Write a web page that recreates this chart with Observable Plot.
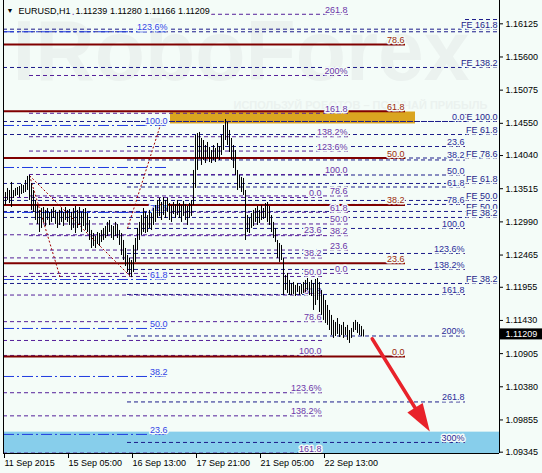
<!DOCTYPE html>
<html><head><meta charset="utf-8">
<script src="https://cdn.jsdelivr.net/npm/d3@7"></script>
<script src="https://cdn.jsdelivr.net/npm/@observablehq/plot@0.6"></script>
<style>html,body{margin:0;padding:0;background:#f4fcf8;} #chart svg{display:block;}</style>
</head><body><div id="chart"></div>
<script>
// ---------- data ----------
const symbolName = "EURUSD,H1";
const lastQuote = [1.11239, 1.11280, 1.11166, 1.11209]; // O H L C
const barHigh = [
1.13487,1.13455,1.13519,1.13487,1.13614,1.13487,1.13519,1.13534,1.13550,1.13582,
1.13566,1.13645,1.13709,1.13724,1.13598,1.13487,1.13329,1.13250,1.13171,1.13202,
1.13218,1.13171,1.13202,1.13139,1.13186,1.13218,1.13171,1.13139,1.13171,1.13202,
1.13139,1.13218,1.13171,1.13186,1.13139,1.13202,1.13234,1.13171,1.13218,1.13139,
1.13186,1.13202,1.13123,1.13012,1.12854,1.12806,1.12759,1.12822,1.12806,1.12854,
1.12886,1.12917,1.12981,1.13012,1.12933,1.12917,1.12981,1.12949,1.12854,1.12806,
1.12696,1.12569,1.12458,1.12411,1.12379,1.12617,1.12727,1.12886,1.12981,1.13091,
1.13202,1.13139,1.13091,1.13171,1.13123,1.13202,1.13250,1.13329,1.13360,1.13297,
1.13376,1.13329,1.13360,1.13281,1.13250,1.13297,1.13265,1.13329,1.13281,1.13250,
1.13313,1.13265,1.13234,1.13281,1.13329,1.13804,1.14358,1.14389,1.14405,1.14310,
1.14278,1.14199,1.14247,1.14168,1.14120,1.14199,1.14152,1.14231,1.14183,1.14358,
1.14516,1.14611,1.14563,1.14437,1.14310,1.14199,1.14120,1.13804,1.13724,1.13693,
1.13677,1.13487,1.13091,1.13044,1.13123,1.13171,1.13202,1.13234,1.13171,1.13250,
1.13202,1.13281,1.13297,1.13234,1.13091,1.12981,1.12886,1.12696,1.12648,1.12617,
1.12411,1.12142,1.12174,1.12063,1.12015,1.12031,1.11984,1.12015,1.11968,1.11999,
1.12031,1.12063,1.12094,1.12031,1.12063,1.12015,1.12078,1.12094,1.12031,1.11904,
1.11825,1.11746,1.11667,1.11588,1.11509,1.11430,1.11398,1.11461,1.11366,1.11351,
1.11398,1.11319,1.11351,1.11271,1.11303,1.11398,1.11430,1.11398,1.11366,1.11335,
1.11280];
const barLow = [
1.13297,1.13250,1.13329,1.13281,1.13218,1.13360,1.13392,1.13408,1.13376,1.13424,
1.13439,1.13455,1.13487,1.13329,1.13171,1.13139,1.13012,1.12949,1.12822,1.12886,
1.12981,1.12917,1.13012,1.12933,1.12981,1.13044,1.12949,1.12886,1.12933,1.12981,
1.12917,1.13012,1.12981,1.12933,1.12854,1.12886,1.12806,1.12886,1.12933,1.12822,
1.12917,1.12854,1.12822,1.12696,1.12569,1.12601,1.12569,1.12632,1.12601,1.12664,
1.12696,1.12727,1.12759,1.12822,1.12727,1.12696,1.12759,1.12727,1.12617,1.12458,
1.12379,1.12284,1.12189,1.12142,1.12110,1.12189,1.12348,1.12538,1.12696,1.12775,
1.12822,1.12806,1.12822,1.12886,1.12854,1.12933,1.12981,1.13044,1.13076,1.13012,
1.13091,1.13044,1.13139,1.13012,1.12981,1.13107,1.13044,1.13091,1.13044,1.12981,
1.13076,1.13012,1.12933,1.13044,1.13076,1.13250,1.13519,1.13804,1.13993,1.13883,
1.13962,1.13914,1.13993,1.13930,1.13914,1.13962,1.13930,1.13993,1.13962,1.14041,
1.14120,1.14278,1.14199,1.14088,1.13962,1.13835,1.13724,1.13487,1.13519,1.13455,
1.13408,1.12696,1.12822,1.12806,1.12886,1.12917,1.12981,1.12933,1.12965,1.13012,
1.13028,1.13044,1.12981,1.12933,1.12822,1.12727,1.12664,1.12411,1.12348,1.12379,
1.11825,1.11904,1.11857,1.11825,1.11825,1.11841,1.11809,1.11873,1.11825,1.11841,
1.11857,1.11873,1.11904,1.11825,1.11809,1.11588,1.11667,1.11746,1.11556,1.11509,
1.11430,1.11382,1.11351,1.11271,1.11192,1.11145,1.11176,1.11208,1.11161,1.11192,
1.11145,1.11192,1.11113,1.11066,1.11145,1.11240,1.11271,1.11224,1.11192,1.11176,
1.11166];

const xTickIndex = [0, 32, 64, 96, 128, 160];
const xTickLabels = ["11 Sep 2015", "15 Sep 05:00", "16 Sep 13:00", "17 Sep 21:00", "21 Sep 05:00", "22 Sep 13:00"];
const yTickValues = [1.16125, 1.15600, 1.15075, 1.14550, 1.14040, 1.13515, 1.12990, 1.12465, 1.11955, 1.11430, 1.10905, 1.10380, 1.09855, 1.09345];
const xDomain = [0, 248];
const yDomain = [1.09324, 1.16494];

// red Fibonacci retracement
const redLevels = [1.15798, 1.14742, 1.14001, 1.13258, 1.12337, 1.10860];
const redLabels = ["78.6", "61.8", "50.0", "38.2", "23.6", "0.0"];
const redSpan = [0, 201];

// blue dash-dot retracement
const blueLevels = [1.15999, 1.14516, 1.13851, 1.13139, 1.12078, 1.11303, 1.10543, 1.09626];
const blueLabels = ["123.6%", "100.0", "", "78.6", "61.8", "50.0", "38.2", "23.6"];
const blueSpan = [0, 82.5];

// purple expansion 1
const p1Levels = [1.16276, 1.15307, 1.14709, 1.14338, 1.14111, 1.13740, 1.13401, 1.13142, 1.12957, 1.12772, 1.12544, 1.12174];
const p1Labels = ["261.8", "200%", "161.8", "138.2%", "123.6%", "100.0", "78.6", "61.8", "50.0", "38.2", "23.6", "0.0"];
const p1Span = [13, 172.5];

// purple expansion 2
const p2Levels = [1.13376, 1.12786, 1.12420, 1.12126, 1.11832, 1.11411, 1.10876, 1.10286, 1.09920, 1.09331, 1.11113];
const p2Labels = ["0.0", "23.6", "38.2", "50.0", "61.8", "78.6", "100.0", "123.6%", "138.2%", "161.8", ""];
const p2Span = [0, 159.5];

// navy expansion
const navyLevels = [1.14579, 1.14183, 1.13970, 1.13732, 1.13542, 1.13266, 1.12886, 1.12490, 1.12237, 1.11841, 1.11184, 1.10140, 1.09499];
const navyLabels = ["0.0", "23.6", "38.2", "50.0", "61.8", "78.6", "100.0", "123.6%", "138.2%", "161.8", "200%", "261.8", "300%"];
const navySpan = [62, 231];

// FE lines (full width)
const feLevels = [1.16040, 1.15999, 1.15434, 1.14579, 1.14373, 1.14001, 1.13598, 1.13329, 1.13155, 1.13060, 1.12015];
const feLabels = ["FE 161.8", "", "FE 138.2", "FE 100.0", "FE 61.8", "FE 78.6", "FE 61.8", "FE 50.0", "FE 50.0", "FE 38.2", "FE 38.2"];
const feSpan = [0, 248];
const feShort = [{a: 231, b: 248, p: 1.16193}];

// dotted trend lines
const diagonals = [
  {i1: 13, p1: 1.13724, i2: 64, p2: 1.12110},
  {i1: 13, p1: 1.13724, i2: 28.5, p2: 1.12094},
  {i1: 62, p1: 1.12886, i2: 79.5, p2: 1.14627}
];
const goldZone = [{i1: 83.5, i2: 206, p1: 1.14729, p2: 1.14540}];
const targetZone = [{i1: 0, i2: 248, p1: 1.09662, p2: 1.09324}];
const forecastArrow = [{i1: 184.35, p1: 1.11140, i2: 213.15, p2: 1.09673}];

// ---------- chart ----------
const bg = "#f4fcf8";
const FONT = "'Liberation Sans', Arial, Helvetica, sans-serif";
const rows = (levels, labels, span) => levels.map((p, k) => ({p, label: labels[k], a: span[0], b: span[1]}));
const redRows = rows(redLevels, redLabels, redSpan);
const blueRows = rows(blueLevels, blueLabels, blueSpan);
const p1Rows = rows(p1Levels, p1Labels, p1Span);
const p2Rows = rows(p2Levels, p2Labels, p2Span);
const navyRows = rows(navyLevels, navyLabels, navySpan);
const feRows = rows(feLevels, feLabels, feSpan);

const NAVY = "#1c1c8a", PURPLE = "#55209a", BLUE = "#1f3be0", RED = "#800000";
const dash = "4,3";
const labelOpts = (fill, dx) => ({x: "b", y: "p", text: "label", textAnchor: "end", lineAnchor: "bottom",
  dy: -1.5, dx, fill, stroke: bg, strokeWidth: 3, paintOrder: "stroke", fontSize: 9});

const bars = d3.range(barHigh.length);
const arrowHead = {
  draw(ctx) {
    const ux = 0.528, uy = 0.85, L = 28, W = 9;
    const bx = -L * ux, by = -L * uy;
    ctx.moveTo(0, 0);
    ctx.lineTo(bx - W * uy, by + W * ux);
    ctx.lineTo(bx + W * uy, by - W * ux);
    ctx.closePath();
  }
};

const title = `${symbolName}  ${lastQuote.map(d => d.toFixed(5)).join(" ")}`;
const WATERMARK = "IRoboForex";

const chart = Plot.plot({
  width: 542, height: 473,
  marginLeft: 3, marginRight: 43, marginTop: 0, marginBottom: 20,
  x: {domain: xDomain, axis: null},
  y: {domain: yDomain, axis: null},
  style: {background: bg, fontFamily: FONT, fontSize: "9px", color: "black"},
  marks: [
    // watermark
    Plot.text([WATERMARK], {frameAnchor: "top-left", dx: 9, dy: 52, fontSize: 86, fontWeight: "bold", fill: "#ebf2ef", textAnchor: "start", lineAnchor: "middle"}),
    Plot.text(["ИСПОЛЬЗУЙ РОБОТОВ – ПОЛУЧАЙ ПРИБЫЛЬ"], {frameAnchor: "top-left", dx: 230, dy: 105, fontSize: 11, fontWeight: "bold", fill: "#ebf2ef", textAnchor: "start", lineAnchor: "middle"}),
    // zones
    Plot.rect(targetZone, {x1: "i1", x2: "i2", y1: "p1", y2: "p2", fill: "#87ceeb"}),
    Plot.rect(goldZone, {x1: "i1", x2: "i2", y1: "p1", y2: "p2", fill: "#daa520"}),
    // level lines
    Plot.ruleY(feRows, {y: "p", x1: "a", x2: "b", stroke: NAVY, strokeDasharray: dash}),
    Plot.ruleY(feShort, {y: "p", x1: "a", x2: "b", stroke: NAVY, strokeDasharray: dash}),
    Plot.ruleY(navyRows, {y: "p", x1: "a", x2: "b", stroke: NAVY, strokeDasharray: dash}),
    Plot.ruleY(p1Rows, {y: "p", x1: "a", x2: "b", stroke: PURPLE, strokeDasharray: dash}),
    Plot.ruleY(p2Rows, {y: "p", x1: "a", x2: "b", stroke: PURPLE, strokeDasharray: dash}),
    Plot.ruleY(blueRows, {y: "p", x1: "a", x2: "b", stroke: BLUE, strokeDasharray: "11,3,2,3"}),
    Plot.ruleY(redRows, {y: "p", x1: "a", x2: "b", stroke: RED, strokeWidth: 2}),
    Plot.link(diagonals, {x1: "i1", y1: "p1", x2: "i2", y2: "p2", stroke: "#a00000", strokeDasharray: "2,2", strokeWidth: 1}),
    // labels
    Plot.text(feRows, labelOpts(NAVY, -2)),
    Plot.text(navyRows, labelOpts("#2b2b99", -1)),
    Plot.text(p1Rows, labelOpts("#6b35a8", -1)),
    Plot.text(p2Rows, labelOpts("#6b35a8", -1)),
    Plot.text(blueRows, labelOpts("#3344e6", -1)),
    Plot.text(redRows, labelOpts("#9b2a0c", -1)),
    // price bars
    Plot.ruleX(bars, {x: d => d, y1: d => barLow[d], y2: d => barHigh[d], stroke: "black", strokeWidth: 1}),
    // forecast arrow
    Plot.arrow(forecastArrow, {x1: "i1", y1: "p1", x2: "i2", y2: "p2", stroke: "#e8222a", strokeWidth: 3.5, headLength: 0, insetEnd: 20}),
    Plot.dot(forecastArrow, {x: "i2", y: "p2", symbol: arrowHead, r: 3, fill: "#e8222a", stroke: "none"}),
    // frame
    Plot.ruleX([xDomain[0]], {stroke: "black"}),
    Plot.ruleX([xDomain[1]], {stroke: "black"}),
    Plot.ruleY([yDomain[0]], {stroke: "black"}),
    // axes
    Plot.axisY({ticks: yTickValues, anchor: "right", tickFormat: d => d.toFixed(5), tickSize: 3, tickPadding: 3, fontSize: 9, label: null, stroke: "black", fill: "black"}),
    Plot.axisX({ticks: xTickIndex, anchor: "bottom", tickFormat: d => xTickLabels[xTickIndex.indexOf(d)], tickSize: 5, tickPadding: 1, textAnchor: "start", dx: 1, fontSize: 9, label: null, stroke: "black", fill: "black"}),
    // current price box
    Plot.rect([lastQuote[3]], {x1: xDomain[1], x2: xDomain[1], y1: d => d, y2: d => d, insetLeft: 1, insetRight: -43, insetTop: -5.5, insetBottom: -5.5, fill: "black"}),
    Plot.text([lastQuote[3]], {x: xDomain[1], y: d => d, text: d => d.toFixed(5), dx: 6, textAnchor: "start", fill: "white", fontSize: 9}),
    // title
    Plot.text(["▼"], {frameAnchor: "top-left", dx: 3, dy: 10.5, fontSize: 7, textAnchor: "start", lineAnchor: "middle", fill: "black"}),
    Plot.text([title], {frameAnchor: "top-left", dx: 15, dy: 10.5, fontSize: 9, textAnchor: "start", lineAnchor: "middle", fill: "black", stroke: bg, strokeWidth: 5, paintOrder: "stroke"})
  ]
});
// stretch the faint watermark to its width in the reference
d3.select(chart).selectAll("text").filter(function() { return this.textContent === WATERMARK; })
  .attr("textLength", 457).attr("lengthAdjust", "spacingAndGlyphs");
document.getElementById("chart").appendChild(chart);
</script>
</body></html>
